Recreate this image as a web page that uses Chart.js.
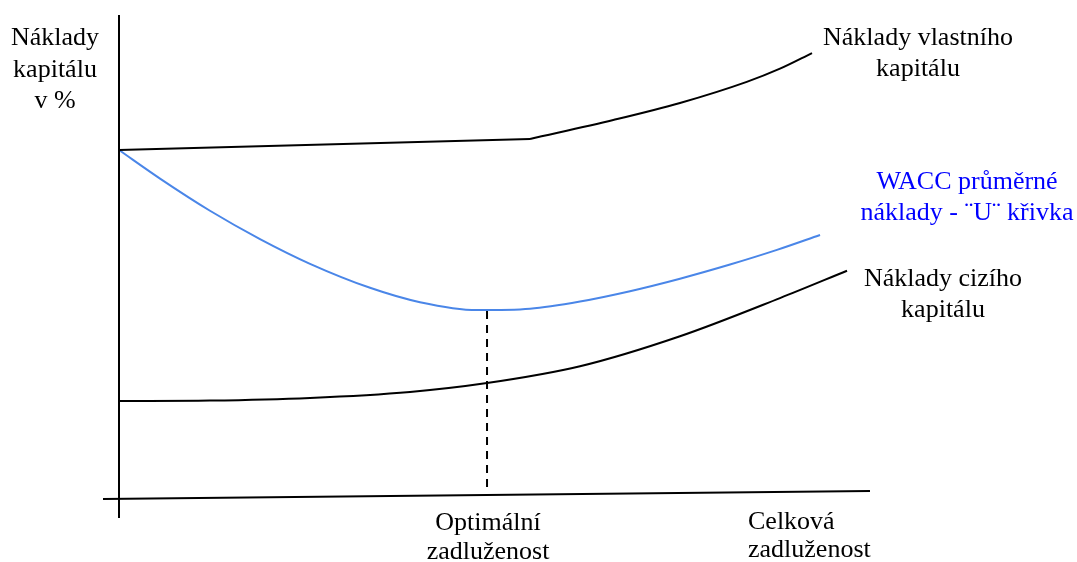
<!DOCTYPE html>
<html>
<head>
<meta charset="utf-8">
<script src="https://cdn.jsdelivr.net/npm/chart.js@4/dist/chart.umd.min.js"></script>
<style>
html,body{margin:0;padding:0;background:#fff;}
#c{display:block;}
</style>
</head>
<body>
<canvas id="c" width="1077" height="562"></canvas>
<script>
// Schematic data (x = celková zadluženost, y = náklady kapitálu v %)
const equityX = [0, 54.8, 65.9, 74.8, 83.7, 88.13, 92.4];
const equityY = [14.54, 15.0, 15.79, 16.5, 17.38, 17.93, 18.58];
const equityKink = 1; // index where the cost of equity starts to rise

const waccX = [0, 5.47, 12.13, 18.8, 25.47, 33.47, 40.13, 47.73, 54.8, 61.47, 68.13, 74.8, 81.47, 87.73, 93.47];
const waccY = [14.54, 13.35, 12.01, 10.83, 9.80, 8.80, 8.20, 7.87, 7.93, 8.23, 8.66, 9.18, 9.77, 10.38, 11.0];

const debtX = [0, 12.13, 25.47, 38.8, 49.07, 61.47, 74.8, 88.13, 97.07];
const debtY = [4.08, 4.10, 4.21, 4.46, 4.83, 5.53, 6.78, 8.37, 9.51];

const optimumX = [49.07, 49.07];
const optimumY = [7.83, 0.29];

const xAxisX = [-2.13, 100.13];
const xAxisY = [0, 0.33];
const yAxisX = [0, 0];
const yAxisY = [20.17, -0.79];

const labelsLeft = ["Náklady", "kapitálu", "v %"];
const labelsEquity = ["Náklady vlastního", "kapitálu"];
const labelsWacc = ["WACC průměrné", "náklady - ¨U¨ křivka"];
const labelsDebt = ["Náklady cizího", "kapitálu"];
const labelsOpt = ["Optimální", "zadluženost"];
const labelsTotal = ["Celková", "zadluženost"];

const pts = (xs, ys) => xs.map((x, i) => ({x: x, y: ys[i]}));

const textPlugin = {
  id: 'texts',
  afterDraw(chart) {
    const ctx = chart.ctx;
    ctx.save();
    ctx.font = '26px "Liberation Serif", "Times New Roman", serif';
    ctx.textBaseline = 'middle';
    const draw = (lines, x, ys, color, align) => {
      ctx.fillStyle = color;
      ctx.textAlign = align;
      lines.forEach((t, i) => ctx.fillText(t, x, ys[i]));
    };
    draw(labelsLeft, 55, [38, 70, 101], '#000', 'center');
    draw(labelsEquity, 918, [38, 69], '#000', 'center');
    draw(labelsWacc, 967, [182, 213], '#0000ff', 'center');
    draw(labelsDebt, 943, [279, 310], '#000', 'center');
    draw(labelsOpt, 488, [523, 552], '#000', 'center');
    draw(labelsTotal, 748, [522, 550], '#000', 'left');
    ctx.restore();
  }
};

const base = {pointRadius: 0, fill: false, clip: false, showLine: true};
const equityPts = pts(equityX, equityY);

new Chart(document.getElementById('c'), {
  type: 'scatter',
  data: {
    datasets: [
      Object.assign({}, base, {label: 'osa x', data: pts(xAxisX, xAxisY), borderColor: '#000', borderWidth: 2, tension: 0}),
      Object.assign({}, base, {label: 'osa y', data: pts(yAxisX, yAxisY), borderColor: '#000', borderWidth: 2, tension: 0}),
      Object.assign({}, base, {label: 'Náklady vlastního kapitálu', data: equityPts.slice(0, equityKink + 1), borderColor: '#000', borderWidth: 2, tension: 0}),
      Object.assign({}, base, {label: 'Náklady vlastního kapitálu (růst)', data: equityPts.slice(equityKink), borderColor: '#000', borderWidth: 2, cubicInterpolationMode: 'monotone'}),
      Object.assign({}, base, {label: 'WACC', data: pts(waccX, waccY), borderColor: '#4a86e8', borderWidth: 2, cubicInterpolationMode: 'monotone'}),
      Object.assign({}, base, {label: 'Náklady cizího kapitálu', data: pts(debtX, debtY), borderColor: '#000', borderWidth: 2, cubicInterpolationMode: 'monotone'}),
      Object.assign({}, base, {label: 'Optimum', data: pts(optimumX, optimumY), borderColor: '#000', borderWidth: 2, borderDash: [8, 6], tension: 0})
    ]
  },
  options: {
    responsive: false,
    animation: false,
    layout: {padding: {left: 119, right: 208, top: 19, bottom: 63}},
    plugins: {legend: {display: false}, tooltip: {enabled: false}},
    scales: {
      x: {type: 'linear', min: 0, max: 100, display: false},
      y: {type: 'linear', min: 0, max: 20, display: false}
    }
  },
  plugins: [textPlugin]
});
</script>
</body>
</html>
